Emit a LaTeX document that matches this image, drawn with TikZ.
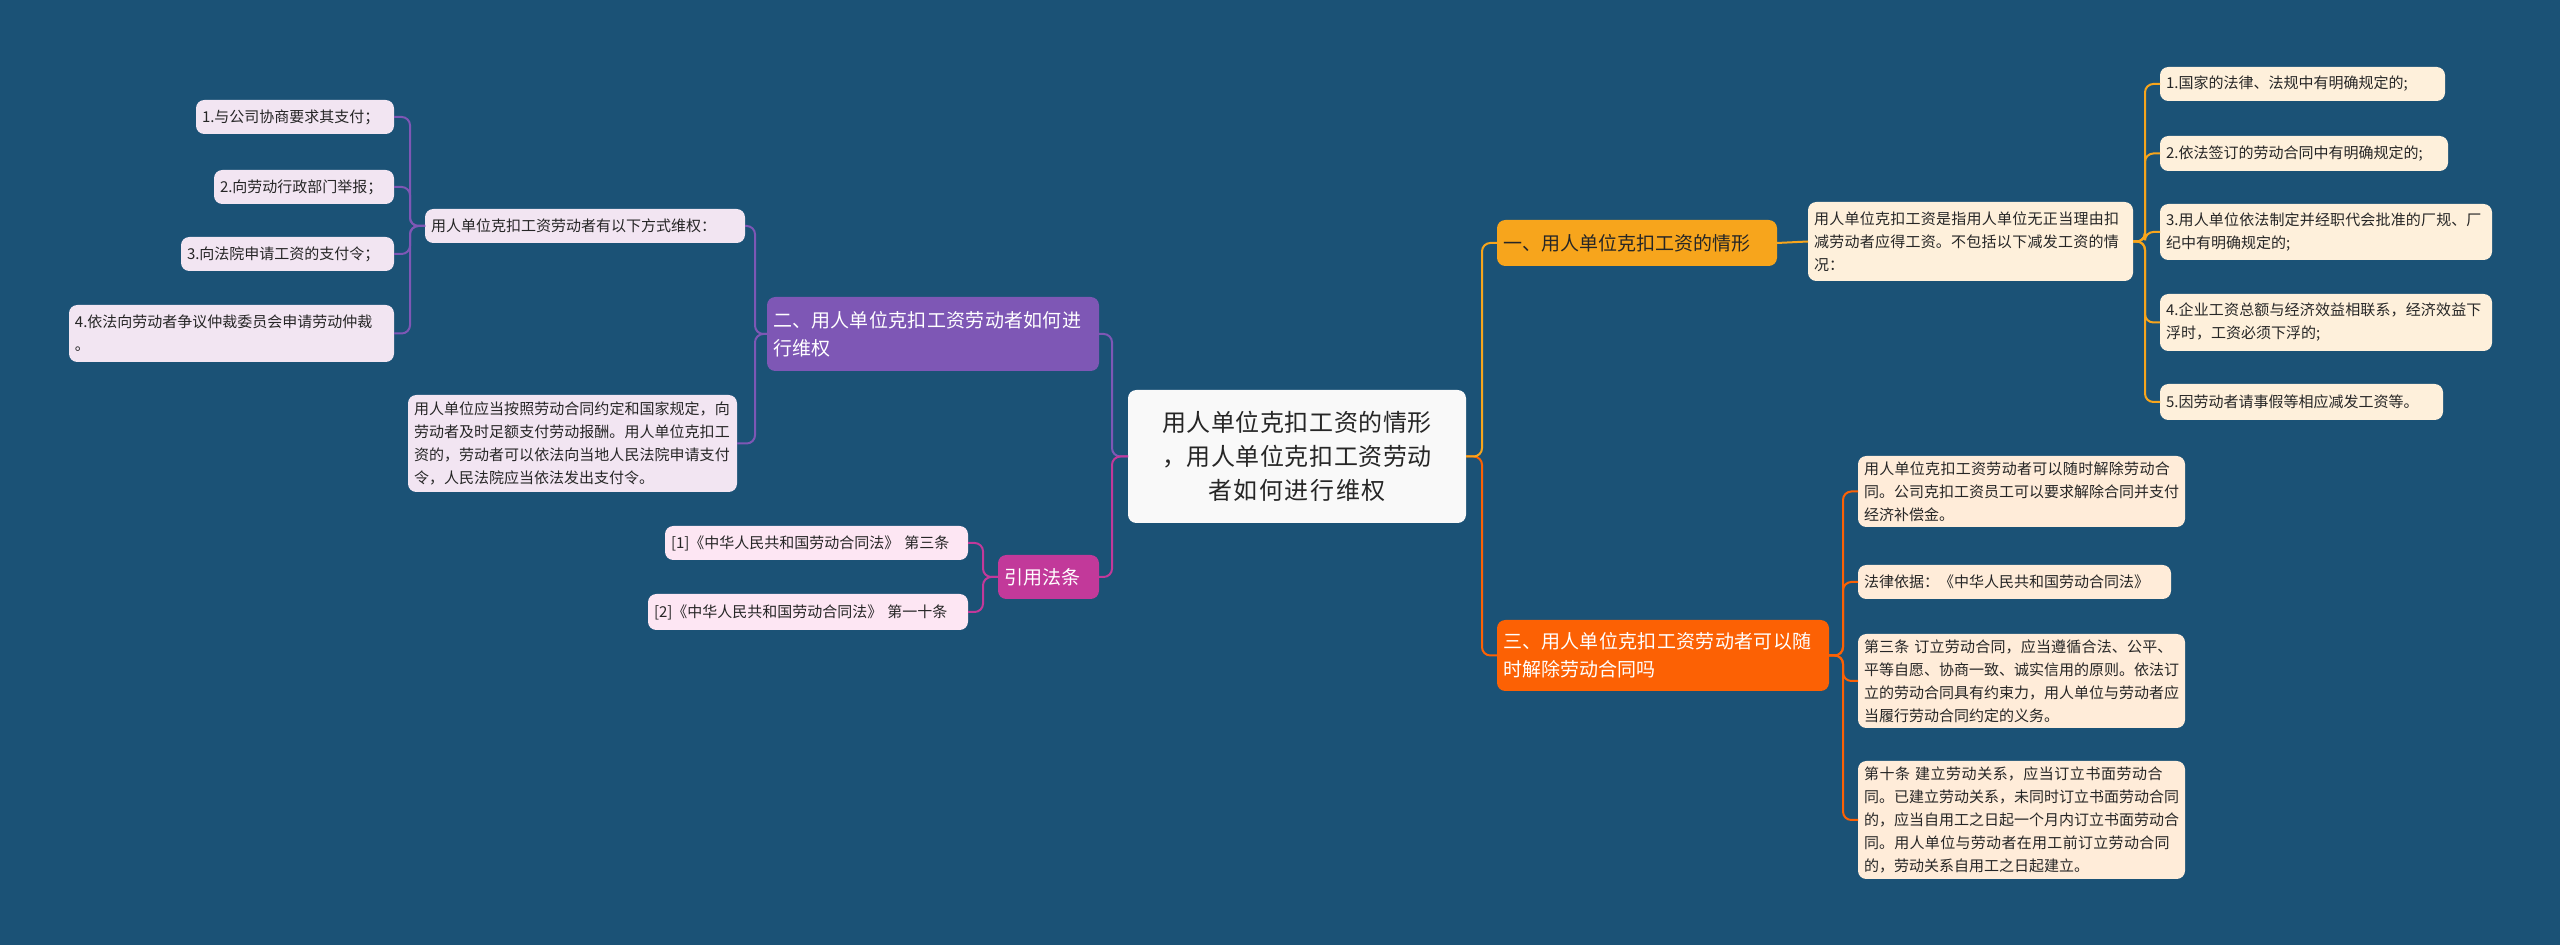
\documentclass[tikz,border=0pt]{standalone}
\usepackage{fontspec}
\setmainfont{Noto Sans CJK SC}
\XeTeXlinebreaklocale "zh"
\XeTeXlinebreakskip=0pt plus 0.3pt
\begin{document}
\begin{tikzpicture}[x=0.3pt,y=-0.3pt,
 base/.style={rounded corners=2.5pt,inner xsep=1.8pt,inner ysep=1pt,outer sep=0pt,align=left},
 leafY/.style={base,fill=yellow!8!orange!12!white,text=black!85,font=\fontsize{4.5}{6.9}\selectfont},
 leafO/.style={base,fill=orange!15!white,text=black!85,font=\fontsize{4.5}{6.9}\selectfont},
 leafP/.style={base,fill=violet!10!white,text=black!85,font=\fontsize{4.5}{6.9}\selectfont},
 leafM/.style={base,fill=magenta!10!white,text=black!85,font=\fontsize{4.5}{6.9}\selectfont},
 brY/.style={base,fill=cY,text=black!85,font=\fontsize{5.7}{8.4}\selectfont},
 brO/.style={base,fill=cO,text=white,font=\fontsize{5.7}{8.4}\selectfont},
 brP/.style={base,fill=cP,text=white,font=\fontsize{5.7}{8.4}\selectfont},
 brM/.style={base,fill=cM,text=white,font=\fontsize{5.7}{8.4}\selectfont},
 ctr/.style={base,fill=white!95!gray,text=black!85,align=center,font=\fontsize{7.2}{10.2}\selectfont},
 lk/.style={line width=0.6pt,rounded corners=2.5pt}]
\definecolor{bg}{HTML}{1B5276}
\definecolor{cY}{HTML}{F7A51C}
\definecolor{cO}{HTML}{FC6104}
\definecolor{cP}{HTML}{7E57B5}
\definecolor{cM}{HTML}{C2399A}
\newcommand\bx[7]{\pgfmathsetmacro\bw{(#5-#3)*0.3}\pgfmathsetmacro\bh{(#6-#4)*0.3}\pgfmathsetmacro\tw{(#5-#3-12)*0.3}\node[#2,minimum width=\bw pt,minimum height=\bh pt,text width=\tw pt] (#1) at ({(#3+#5)/2},{(#4+#6)/2}) {#7};}
\fill[bg] (0,0) rectangle (2560,945);
\useasboundingbox (0,0) rectangle (2560,945);
\bx{c}{ctr}{1128}{390}{1466}{523}{用人单位克扣工资的情形\\，用人单位克扣工资劳动\\者如何进行维权}
% branch 1
\bx{b1}{brY}{1497}{220}{1777}{266}{一、用人单位克扣工资的情形}
\bx{d1}{leafY}{1808}{202}{2133}{281}{用人单位克扣工资是指用人单位无正当理由扣减劳动者应得工资。不包括以下减发工资的情况：}
\bx{y1}{leafY}{2160}{67}{2445}{101}{1.国家的法律、法规中有明确规定的;}
\bx{y2}{leafY}{2160}{136}{2448}{171}{2.依法签订的劳动合同中有明确规定的;}
\bx{y3}{leafY}{2160}{204}{2492}{260}{3.用人单位依法制定并经职代会批准的厂规、厂纪中有明确规定的;}
\bx{y4}{leafY}{2160}{294}{2492}{351}{4.企业工资总额与经济效益相联系，经济效益下浮时，工资必须下浮的;}
\bx{y5}{leafY}{2160}{384}{2443}{420}{5.因劳动者请事假等相应减发工资等。}
% branch 3
\bx{b3}{brO}{1497}{620}{1829}{691}{三、用人单位克扣工资劳动者可以随时解除劳动合同吗}
\bx{o1}{leafO}{1858}{456}{2185}{527}{用人单位克扣工资劳动者可以随时解除劳动合同。公司克扣工资员工可以要求解除合同并支付经济补偿金。}
\bx{o2}{leafO}{1858}{565}{2171}{599}{法律依据：《中华人民共和国劳动合同法》}
\bx{o3}{leafO}{1858}{634}{2185}{728}{第三条 订立劳动合同，应当遵循合法、公平、平等自愿、协商一致、诚实信用的原则。依法订立的劳动合同具有约束力，用人单位与劳动者应当履行劳动合同约定的义务。}
\bx{o4}{leafO}{1858}{761}{2185}{879}{第十条 建立劳动关系，应当订立书面劳动合同。已建立劳动关系，未同时订立书面劳动合同的，应当自用工之日起一个月内订立书面劳动合同。用人单位与劳动者在用工前订立劳动合同的，劳动关系自用工之日起建立。}
% branch 2
\bx{b2}{brP}{767}{297}{1099}{371}{二、用人单位克扣工资劳动者如何进行维权}
\bx{pa}{leafP}{425}{209}{745}{243}{用人单位克扣工资劳动者有以下方式维权：}
\bx{p1}{leafP}{196}{100}{394}{134}{1.与公司协商要求其支付；}
\bx{p2}{leafP}{214}{170}{394}{204}{2.向劳动行政部门举报；}
\bx{p3}{leafP}{181}{237}{394}{271}{3.向法院申请工资的支付令；}
\bx{p4}{leafP}{69}{305}{394}{362}{4.依法向劳动者争议仲裁委员会申请劳动仲裁\\。}
\bx{pb}{leafP}{408}{395}{737}{492}{用人单位应当按照劳动合同约定和国家规定，向劳动者及时足额支付劳动报酬。用人单位克扣工资的，劳动者可以依法向当地人民法院申请支付令，人民法院应当依法发出支付令。}
% refs
\bx{m}{brM}{998}{555}{1099}{599}{引用法条}
\bx{m1}{leafM}{665}{526}{968}{560}{[1]《中华人民共和国劳动合同法》 第三条}
\bx{m2}{leafM}{648}{594}{968}{630}{[2]《中华人民共和国劳动合同法》 第一十条}
% links
\draw[lk,cO] (c.east) -- ++(16,0) |- (b3.west);
\draw[lk,cY] (c.east) -- ++(16,0) |- (b1.west);
\draw[lk,cP] (c.west) -- ++(-16,0) |- (b2.east);
\draw[lk,cM] (c.west) -- ++(-16,0) |- (m.east);
\draw[lk,cY] (b1.east) -- (d1.west);
\foreach \t in {y1,y2,y3,y4,y5} \draw[lk,cY] (d1.east) -- ++(12,0) |- (\t.west);
\foreach \t in {o1,o2,o3,o4} \draw[lk,cO] (b3.east) -- ++(14,0) |- (\t.west);
\foreach \t in {pa,pb} \draw[lk,cP] (b2.west) -- ++(-12,0) |- (\t.east);
\foreach \t in {p1,p2,p3,p4} \draw[lk,cP] (pa.west) -- ++(-15,0) |- (\t.east);
\foreach \t in {m1,m2} \draw[lk,cM] (m.west) -- ++(-15,0) |- (\t.east);
\end{tikzpicture}
\end{document}
